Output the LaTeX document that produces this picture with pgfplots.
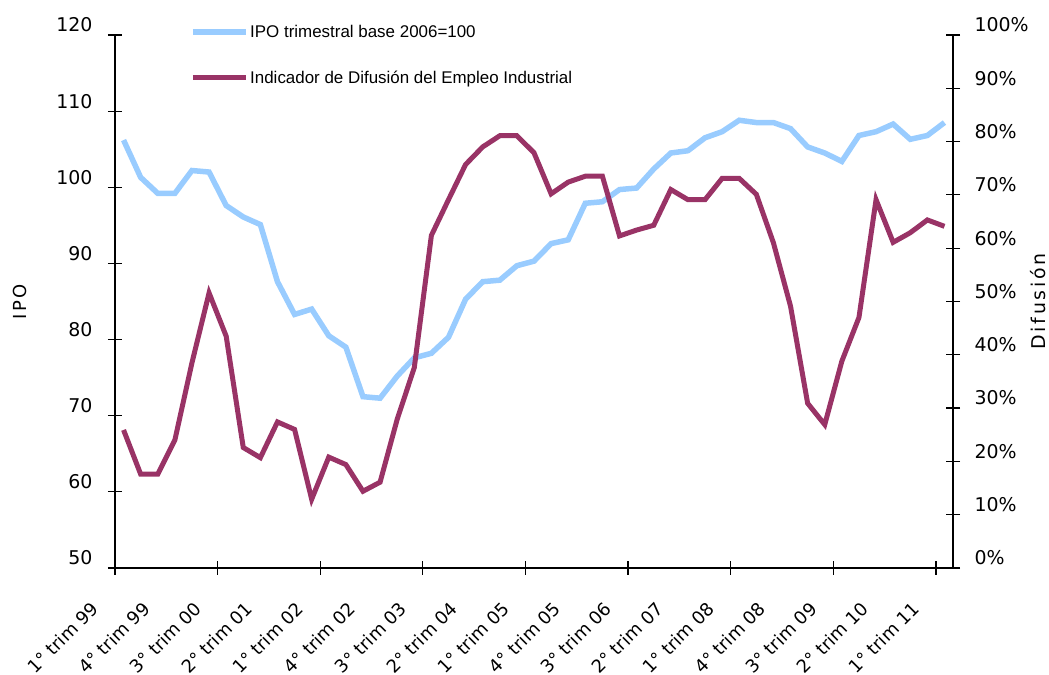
\documentclass[border=0pt]{standalone}
\usepackage{fontspec}
\setmainfont{DejaVu Sans}
\newfontfamily\legfont{Liberation Sans}
\newfontfamily\labfont[LetterSpace=14]{DejaVu Sans}
\usepackage{pgfplots}
\pgfplotsset{compat=1.18}
\usepackage{pgfplotstable}
\definecolor{ipoblue}{HTML}{99CCFF}
\definecolor{difpurple}{HTML}{993366}

\pgfplotstableread{
x ipo dif
0.5 106.2 25.9
1.5 101.3 17.6
2.5 99.2 17.6
3.5 99.2 24.0
4.5 102.2 38.5
5.5 102.0 51.6
6.5 97.6 43.5
7.5 96.1 22.6
8.5 95.1 20.7
9.5 87.6 27.4
10.5 83.3 26.0
11.5 84.0 12.9
12.5 80.5 20.8
13.5 79.0 19.4
14.5 72.5 14.4
15.5 72.3 16.1
16.5 75.2 27.9
17.5 77.6 37.6
18.5 78.2 62.4
19.5 80.3 69.1
20.5 85.3 75.7
21.5 87.6 79.0
22.5 87.8 81.1
23.5 89.7 81.1
24.5 90.3 77.9
25.5 92.6 70.2
26.5 93.1 72.4
27.5 97.9 73.5
28.5 98.1 73.5
29.5 99.7 62.3
30.5 99.9 63.4
31.5 102.4 64.3
32.5 104.5 71.0
33.5 104.8 69.1
34.5 106.5 69.1
35.5 107.3 73.1
36.5 108.8 73.1
37.5 108.5 70.1
38.5 108.5 61.0
39.5 107.7 49.1
40.5 105.3 30.9
41.5 104.5 26.9
42.5 103.4 38.8
43.5 106.8 47.0
44.5 107.3 69.1
45.5 108.3 61.1
46.5 106.3 62.9
47.5 106.8 65.3
48.5 108.5 64.1
}\data

\pgfplotsset{
  common/.style={
    at={(115bp,107bp)}, anchor=south west,
    scale only axis, width=838bp, height=533bp,
    xmin=0, xmax=49,
    tick align=center,
    major tick length=14bp,
    every tick/.style={black, line width=1.2bp},
    axis line style={black, line width=1.2bp},
    /pgf/number format/assume math mode=true,
    tick label style={font=\fontsize{19}{22}\selectfont},
    clip=false,
  }
}

\begin{document}
\begin{tikzpicture}[x=1bp,y=1bp]
\useasboundingbox (0,0) rectangle (1049,675);
\begin{axis}[common,
  axis x line*=bottom, axis y line*=left,
  ymin=50, ymax=120, ytick={50,60,...,120},
  yticklabel style={xshift=-12bp, yshift=10bp},
  xtick={0.5,3.5,...,48.5},
  x tick style={draw=none},
  xticklabels={1° trim 99,4° trim 99,3° trim 00,2° trim 01,1° trim 02,4° trim 02,3° trim 03,2° trim 04,1° trim 05,4° trim 05,3° trim 06,2° trim 07,1° trim 08,4° trim 08,3° trim 09,2° trim 10,1° trim 11},
  xticklabel style={font=\fontsize{18}{21}\selectfont, xshift=-26bp, yshift=-28bp, rotate=45, anchor=east},
  ylabel={\labfont IPO},
  every axis y label/.style={at={(axis description cs:-0.1134,0.5)}, rotate=90, anchor=center, font=\fontsize{18}{21}\selectfont},
]
\addplot[ipoblue, line width=5.5bp] table[x=x, y=ipo] {\data};
\end{axis}
\begin{axis}[common,
  axis x line*=bottom, axis y line*=right,
  xtick={0,6,...,48}, xticklabel={\mbox{}},
  ymin=0, ymax=100, ytick={0,10,...,100},
  yticklabel={\pgfmathprintnumber{\tick}\%},
  yticklabel style={xshift=11bp, yshift=10bp},
  ylabel={\labfont Difusión},
  every axis y label/.style={at={(axis description cs:1.1014,0.5)}, rotate=90, anchor=center, font=\fontsize{19}{22}\selectfont},
  legend style={draw=none, fill=none, at={(axis description cs:0.0895,1.022)}, anchor=north west,
    font=\legfont\fontsize{17}{20}\selectfont, row sep=29bp, inner sep=0pt,
    nodes={inner sep=1.5bp}},
  legend cell align=left,
  legend image code/.code={\draw[#1] (0bp,0bp) -- (53bp,0bp);},
]
\addlegendimage{ipoblue, line width=5.5bp}
\addlegendentry{IPO trimestral base 2006=100}
\addplot[difpurple, line width=5bp] table[x=x, y=dif] {\data};
\addlegendentry{Indicador de Difusión del Empleo Industrial}
\end{axis}
\end{tikzpicture}
\end{document}
